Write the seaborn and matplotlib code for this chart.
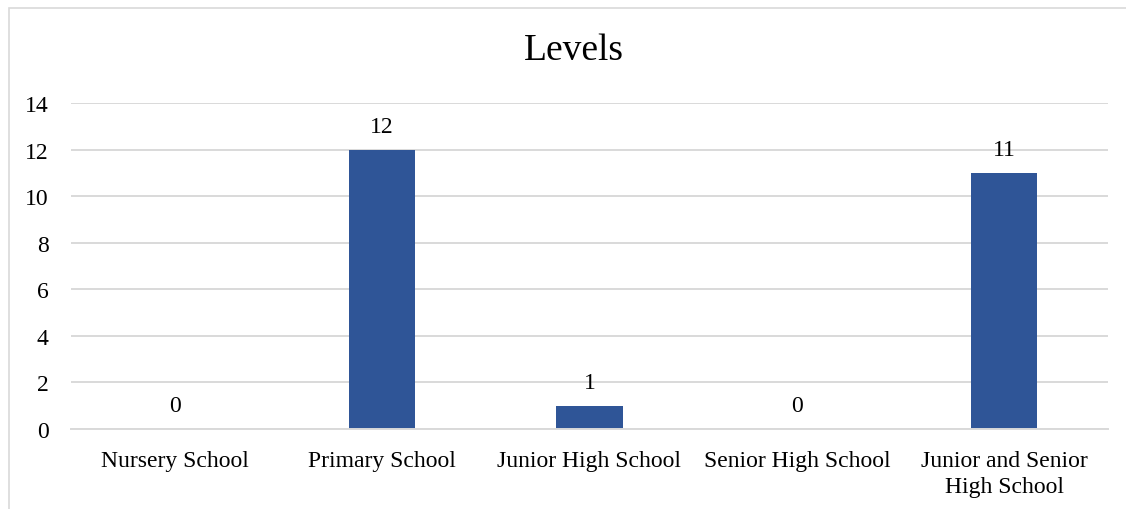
import pandas as pd
import matplotlib.pyplot as plt
import seaborn as sns
from matplotlib.patches import Rectangle

# Data
levels = ['Nursery School', 'Primary School', 'Junior High School',
          'Senior High School', 'Junior and Senior\nHigh School']
counts = [0, 12, 1, 0, 11]

df = pd.DataFrame({'Level': levels, 'Count': counts})

sns.set_style('white')
plt.rcParams['font.family'] = ['Liberation Serif', 'DejaVu Serif']
plt.rcParams['text.color'] = '#000000'

fig = plt.figure(figsize=(11.26, 5.10), dpi=100)
ax = fig.add_axes([0.063, 0.157, 0.921, 0.639])

sns.barplot(data=df, x='Level', y='Count', color='#2F5597',
            saturation=1, width=0.32, linewidth=0, ax=ax)

for i, v in enumerate(counts):
    ax.annotate(str(v), (i, v), xytext=(0, 9), textcoords='offset points',
                ha='center', va='bottom', fontsize=17, color='#000000')

ax.set_ylim(0, 14)
ax.set_yticks(range(0, 15, 2))
ax.yaxis.grid(True, color='#D9D9D9', linewidth=1.4)
ax.set_axisbelow(True)
ax.set_xlabel('')
ax.set_ylabel('')
for side in ['top', 'right', 'left']:
    ax.spines[side].set_visible(False)
ax.spines['bottom'].set_color('#D9D9D9')
ax.spines['bottom'].set_linewidth(1.4)
ax.tick_params(axis='both', length=0, labelsize=17, colors='#000000')
ax.tick_params(axis='y', pad=16)
ax.tick_params(axis='x', pad=15)
for lbl in ax.get_xticklabels():
    lbl.set_linespacing(1.3)

fig.text(0.51, 0.9, 'Levels', ha='center', va='center', fontsize=27,
         color='#000000')

# outer chart border
fig.patches.append(Rectangle((0.008, -0.02), 1.5, 1.002, transform=fig.transFigure,
                             fill=False, edgecolor='#D9D9D9', linewidth=1.2))

fig.savefig('out.png', dpi=100)
plt.close(fig)
